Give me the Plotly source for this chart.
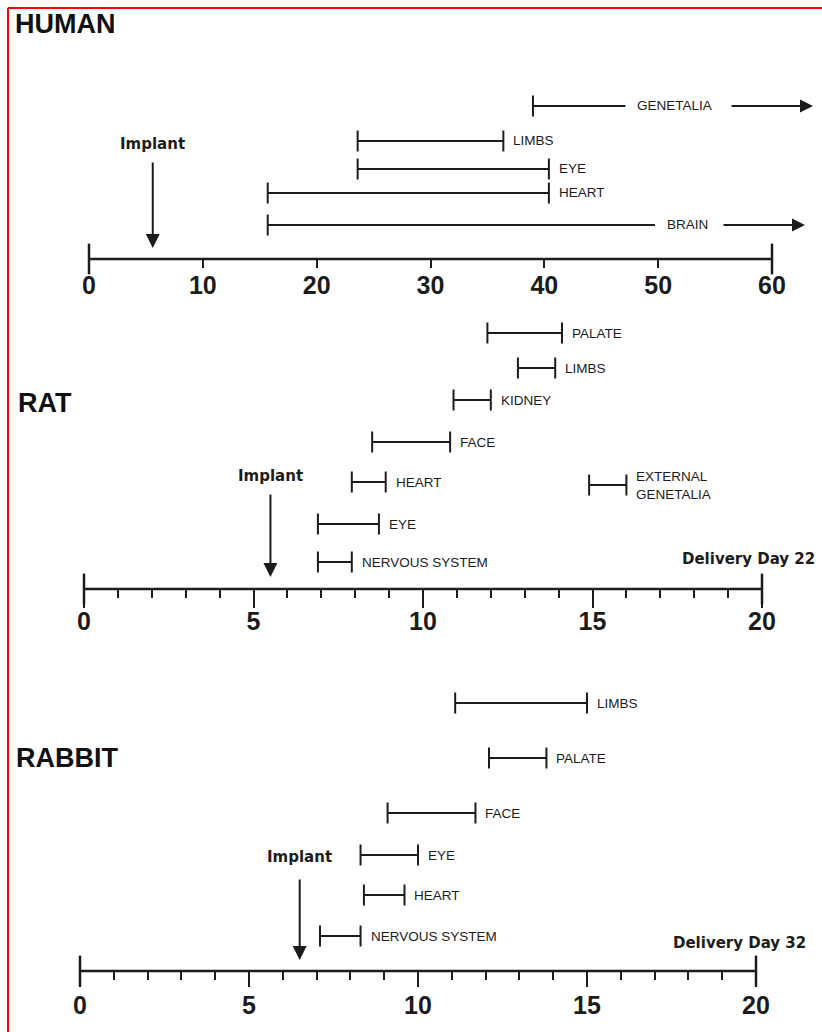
import plotly.graph_objects as go

W, H = 822, 1032
INK = "#1c1c1c"

# ---------------- data (days of gestation) ----------------
human_stages = ["GENETALIA", "LIMBS", "EYE", "HEART", "BRAIN"]
human_start = [39.0, 23.6, 23.6, 15.7, 15.7]
human_end = [63.6, 36.4, 40.4, 40.4, 62.9]          # arrow tip for ongoing periods
human_ongoing = [True, False, False, False, True]
human_implant = 5.6
human_ticks = [0, 10, 20, 30, 40, 50, 60]

rat_stages = ["PALATE", "LIMBS", "KIDNEY", "FACE", "HEART",
              "EXTERNAL<br>GENETALIA", "EYE", "NERVOUS SYSTEM"]
rat_start = [11.9, 12.8, 10.9, 8.5, 7.9, 14.9, 6.9, 6.9]
rat_end = [14.1, 13.9, 12.0, 10.8, 8.9, 16.0, 8.7, 7.9]
rat_ongoing = [False] * 8
rat_implant = 5.5
rat_delivery = 22
rat_ticks = [0, 5, 10, 15, 20]

rabbit_stages = ["LIMBS", "PALATE", "FACE", "EYE", "HEART", "NERVOUS SYSTEM"]
rabbit_start = [11.1, 12.1, 9.1, 8.3, 8.4, 7.1]
rabbit_end = [15.0, 13.8, 11.7, 10.0, 9.6, 8.3]
rabbit_ongoing = [False] * 6
rabbit_implant = 6.5
rabbit_delivery = 32
rabbit_ticks = [0, 5, 10, 15, 20]

# ---------------- layout (pixel positions) ----------------
panels = [
    dict(title="HUMAN", title_xy=(13, 24), stages=human_stages, start=human_start,
         end=human_end, ongoing=human_ongoing, implant=human_implant, ticks=human_ticks,
         delivery=None, ruler_y=259, x0px=89, x1px=772, top=40, bottom=305,
         rows=[153, 118, 90, 66, 34], implant_y=(115, 98, 11),
         open_label_x=[48.0, None, None, None, 50.6],
         major_len=8, minor=False, label_off=26),
    dict(title="RAT", title_xy=(16, 403), stages=rat_stages, start=rat_start,
         end=rat_end, ongoing=rat_ongoing, implant=rat_implant, ticks=rat_ticks,
         delivery=rat_delivery, delivery_xy=(817, 559), ruler_y=589, x0px=84, x1px=762,
         top=310, bottom=645, rows=[256, 221, 189, 147, 107, 104, 65, 27],
         implant_y=(113, 96, 12), open_label_x=[None] * 8,
         major_len=18, minor=True, label_off=32),
    dict(title="RABBIT", title_xy=(14, 758), stages=rabbit_stages, start=rabbit_start,
         end=rabbit_end, ongoing=rabbit_ongoing, implant=rabbit_implant, ticks=rabbit_ticks,
         delivery=rabbit_delivery, delivery_xy=(808, 943), ruler_y=971, x0px=80, x1px=756,
         top=680, bottom=1032, rows=[268, 213, 158, 116, 76, 35],
         implant_y=(114, 93, 11), open_label_x=[None] * 6,
         major_len=15, minor=True, label_off=34),
]

fig = go.Figure()
annotations = []
layout_axes = {}

label_font = dict(family="Liberation Sans", size=13.5, color=INK)
bold_small = dict(family="DejaVu Sans", size=15, color=INK, weight="bold")

for i, p in enumerate(panels, start=1):
    xa = "x" if i == 1 else f"x{i}"
    ya = "y" if i == 1 else f"y{i}"
    xkey = "xaxis" if i == 1 else f"xaxis{i}"
    ykey = "yaxis" if i == 1 else f"yaxis{i}"
    t0, t1 = p["ticks"][0], p["ticks"][-1]
    s = (p["x1px"] - p["x0px"]) / (t1 - t0)          # px per day
    xr = [t0 - p["x0px"] / s, t0 + (W - p["x0px"]) / s]
    ry = p["ruler_y"]

    axis = dict(domain=[0, 1], range=xr, anchor="free", position=1 - ry / H,
                showline=False, showgrid=False, zeroline=False,
                tickmode="array", tickvals=p["ticks"], ticktext=[str(v) for v in p["ticks"]],
                ticks="outside", ticklen=p["major_len"], tickwidth=2, tickcolor=INK,
                tickfont=dict(family="Liberation Sans", size=25, color=INK, weight="bold"),
                ticklabelstandoff=int(p["label_off"] - p["major_len"] - 22),
                fixedrange=True)
    if p["minor"]:
        axis["minor"] = dict(tickmode="array", tickvals=list(range(t0, t1 + 1)),
                             ticks="outside", ticklen=8, tickwidth=2, tickcolor=INK)
    layout_axes[xkey] = axis
    layout_axes[ykey] = dict(domain=[1 - p["bottom"] / H, 1 - p["top"] / H],
                             range=[ry - p["bottom"], ry - p["top"]], visible=False,
                             anchor=xa, fixedrange=True)

    # ruler line with end caps
    fig.add_trace(go.Scatter(x=[t0, t1], y=[0, 0], xaxis=xa, yaxis=ya, mode="lines",
                             line=dict(color=INK, width=2.5), hoverinfo="skip", showlegend=False))
    fig.add_trace(go.Scatter(x=[t0, t1], y=[0, 0], xaxis=xa, yaxis=ya, mode="markers",
                             marker=dict(symbol="line-ns", size=22, line=dict(width=2.5, color=INK)),
                             cliponaxis=False, hoverinfo="skip", showlegend=False))

    # developmental periods
    lx, ly, cx, cy = [], [], [], []
    for k, name in enumerate(p["stages"]):
        y = p["rows"][k]
        a, b = p["start"][k], p["end"][k]
        if p["ongoing"][k]:
            tx = p["open_label_x"][k]
            tw = 9.4 * len(name) / s
            gap = 10 / s
            lx += [a, tx - gap, None]
            ly += [y, y, None]
            cx.append(a); cy.append(y)
            annotations.append(dict(x=tx, y=y, xref=xa, yref=ya, text=name, showarrow=False,
                                    xanchor="left", yanchor="middle", font=label_font))
            annotations.append(dict(x=b, y=y, ax=tx + tw + gap, ay=y, xref=xa, yref=ya,
                                    axref=xa, ayref=ya, text="", showarrow=True,
                                    arrowhead=2, arrowsize=1.3, arrowwidth=2, arrowcolor=INK))
        else:
            lx += [a, b, None]
            ly += [y, y, None]
            cx += [a, b]; cy += [y, y]
            annotations.append(dict(x=b, y=y, xref=xa, yref=ya, text=name, showarrow=False,
                                    xanchor="left", yanchor="middle", xshift=8,
                                    font=label_font, align="left"))
    fig.add_trace(go.Scatter(x=lx, y=ly, xaxis=xa, yaxis=ya, mode="lines",
                             line=dict(color=INK, width=2), hoverinfo="skip", showlegend=False))
    fig.add_trace(go.Scatter(x=cx, y=cy, xaxis=xa, yaxis=ya, mode="markers",
                             marker=dict(symbol="line-ns", size=15, line=dict(width=2, color=INK)),
                             cliponaxis=False, hoverinfo="skip", showlegend=False))

    # implantation arrow
    lab_y, tail_y, head_y = p["implant_y"]
    annotations.append(dict(x=p["implant"], y=lab_y, xref=xa, yref=ya, text="Implant",
                            showarrow=False, xanchor="center", yanchor="middle", font=bold_small))
    annotations.append(dict(x=p["implant"], y=head_y, ax=p["implant"], ay=tail_y,
                            xref=xa, yref=ya, axref=xa, ayref=ya, text="", showarrow=True,
                            arrowhead=2, arrowsize=1.4, arrowwidth=2, arrowcolor=INK))

    # species title
    tx_, ty_ = p["title_xy"]
    annotations.append(dict(x=tx_ / W, y=1 - ty_ / H, xref="paper", yref="paper",
                            text=p["title"], showarrow=False, xanchor="left", yanchor="middle",
                            font=dict(family="Liberation Sans", size=27, color="#111", weight="bold")))
    if p["delivery"] is not None:
        dx, dy = p["delivery_xy"]
        annotations.append(dict(x=dx / W, y=1 - dy / H, xref="paper", yref="paper",
                                text=f"Delivery Day {p['delivery']}", showarrow=False,
                                xanchor="right", yanchor="middle", font=bold_small))

shapes = [
    dict(type="line", xref="paper", yref="paper", x0=8 / W, x1=1, y0=1 - 8 / H, y1=1 - 8 / H,
         line=dict(color="#ff0000", width=2)),
    dict(type="line", xref="paper", yref="paper", x0=8 / W, x1=8 / W, y0=0, y1=1 - 8 / H,
         line=dict(color="#ff0000", width=2)),
]

fig.update_layout(width=W, height=H, margin=dict(l=0, r=0, t=0, b=0),
                  paper_bgcolor="white", plot_bgcolor="white",
                  annotations=annotations, shapes=shapes, showlegend=False, **layout_axes)

fig.write_html("out.html", config={"displayModeBar": False},
               post_script="document.body.style.margin='0';document.body.style.overflow='hidden';")
